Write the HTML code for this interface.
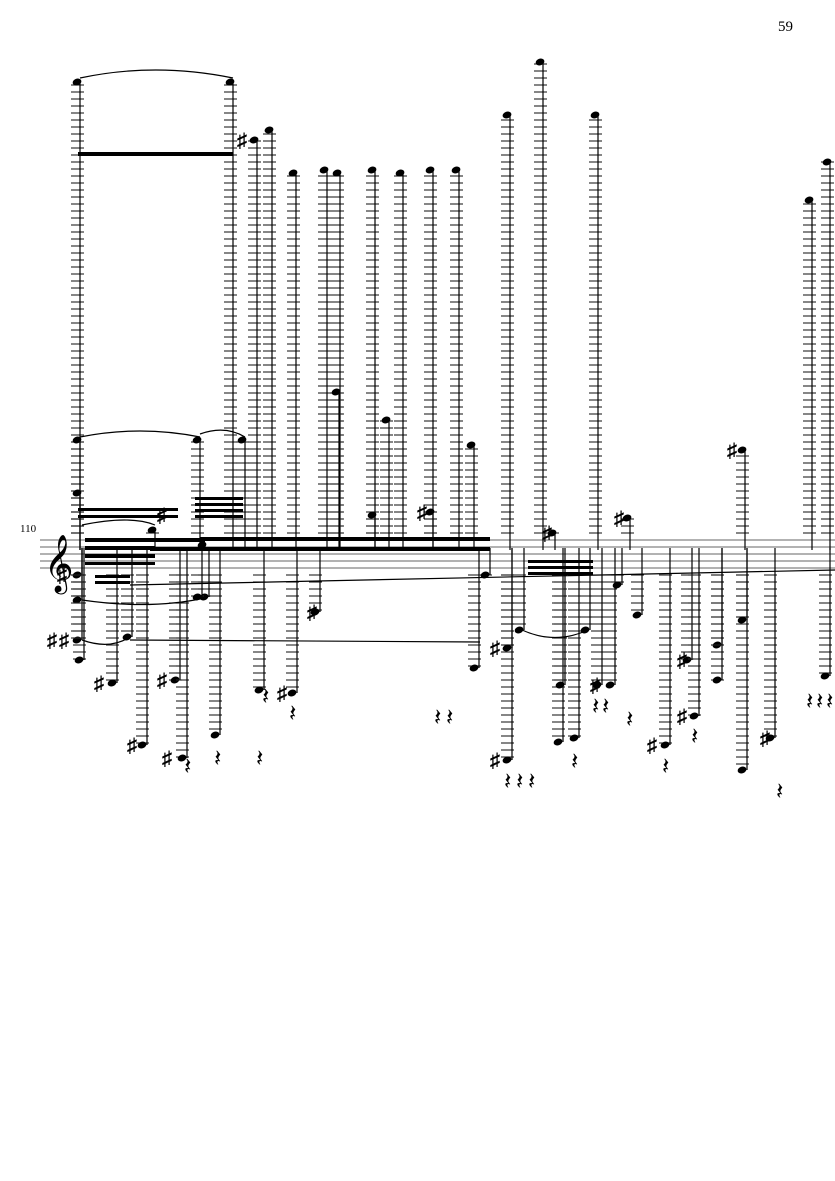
<!DOCTYPE html>
<html><head><meta charset="utf-8"><style>
html,body{margin:0;padding:0;background:#fff;width:835px;height:1181px;overflow:hidden}
svg{display:block}
text{font-family:"Liberation Serif","DejaVu Serif",serif}
</style></head><body>
<svg id="s" width="835" height="1181" viewBox="0 0 835 1181">
<text x="778" y="31" font-size="15">59</text>
<text x="20" y="532" font-size="11">110</text>
<g stroke="#666" stroke-width="1">
<line x1="40" y1="540" x2="835" y2="540"/><line x1="40" y1="547" x2="835" y2="547"/>
<line x1="40" y1="554" x2="835" y2="554"/><line x1="40" y1="561" x2="835" y2="561"/>
<line x1="40" y1="568" x2="835" y2="568"/>
</g>
<text x="44" y="580" font-size="50">𝄞</text>
<g id="g"></g>
<g fill="none" stroke="#000" stroke-width="1.2">
<path d="M80 78 Q155 62 233 78"/><path d="M80 437 Q140 425 200 437"/><path d="M200 434 Q225 425 245 437"/>
<path d="M82 525 Q130 515 155 525"/><path d="M82 600 Q150 610 205 598"/><path d="M82 640 Q110 650 130 637"/>
<path d="M130 640 L480 642"/><path d="M522 630 Q555 645 588 630"/><path d="M130 585 L835 570"/>
</g>
<g fill="#000">
<rect x="78" y="152" width="155" height="4"/>
<rect x="85" y="538" width="120" height="4"/><rect x="85" y="546" width="70" height="4"/>
<rect x="85" y="554" width="70" height="4"/><rect x="85" y="562" width="70" height="3"/>
<rect x="200" y="537" width="290" height="4"/><rect x="150" y="547" width="340" height="4"/>
<rect x="195" y="497" width="48" height="3"/><rect x="195" y="503" width="48" height="3"/><rect x="195" y="509" width="48" height="3"/><rect x="195" y="515" width="48" height="3"/>
<rect x="78" y="508" width="100" height="3"/><rect x="78" y="515" width="100" height="3"/>
<rect x="528" y="560" width="65" height="3"/><rect x="528" y="566" width="65" height="3"/><rect x="528" y="572" width="65" height="3"/>
<rect x="95" y="575" width="35" height="3"/><rect x="95" y="581" width="35" height="3"/>
</g>
</svg>
<script>
var g=document.getElementById('g'),h='';
function L(x1,y1,x2,y2,w,c){h+='<line x1="'+x1+'" y1="'+y1+'" x2="'+x2+'" y2="'+y2+'" stroke="'+(c||'#000')+'" stroke-width="'+w+'"/>';}
function head(x,y){h+='<ellipse cx="'+(x-3)+'" cy="'+y+'" rx="4.5" ry="3.3" transform="rotate(-20 '+(x-3)+' '+y+')" fill="#000"/>';}
function ledg(x,y1,y2){for(var y=y1;y<=y2;y+=7)L(x-9,y,x+4,y,1.1,'#222');}
var up=[[80,82],[233,82],[257,140],[272,130],[296,173],[327,170],[340,173],[375,170],[403,173],[433,170],[459,170],[510,115],[543,62],[598,115],[812,200],[830,162],[80,440],[200,440],[245,440],[339,392],[389,420],[474,445],[745,450],[375,515],[433,512],[555,533],[630,518],[80,493],[155,530],[205,545]];
up.forEach(function(n){var x=n[0],y=n[1];var top=533-Math.floor((533-y)/7)*7;ledg(x,top,533);head(x,y);L(x,y,x,550,1.2);});
var dn=[[115,683],[145,745],[178,680],[185,758],[218,735],[207,597],[262,690],[295,693],[318,612],[477,668],[488,575],[510,760],[510,648],[522,630],[561,742],[563,685],[577,738],[588,630],[600,685],[613,685],[620,585],[640,615],[668,745],[690,660],[697,716],[720,645],[720,680],[745,770],[745,620],[773,738],[828,676],[130,637],[200,597],[80,600],[80,640],[80,575],[82,660]];
dn.forEach(function(n){var x=n[0],y=n[1];ledg(x,575,y);head(x,y);L(x+2,y,x+2,548,1.2);});
var sh=[[250,140],[170,515],[107,683],[140,745],[170,680],[175,758],[290,693],[320,612],[430,512],[503,760],[503,648],[555,533],[627,518],[603,685],[660,745],[690,660],[690,716],[740,450],[773,738],[70,575],[60,640],[72,640]];
sh.forEach(function(n){h+='<text x="'+(n[0]-13)+'" y="'+(n[1]+7)+'" font-size="20" font-weight="bold" font-family="DejaVu Sans">♯</text>';});
[[268,695],[295,712],[440,716],[452,716],[510,780],[522,780],[534,780],[577,760],[598,705],[608,705],[632,718],[668,765],[697,735],[782,790],[812,700],[822,700],[832,700],[190,765],[220,757],[262,757]].forEach(function(n){h+='<text x="'+(n[0]-6)+'" y="'+(n[1]+9)+'" font-size="24" font-family="DejaVu Sans">𝄽</text>';});
g.innerHTML=h;
</script>
</body></html>
